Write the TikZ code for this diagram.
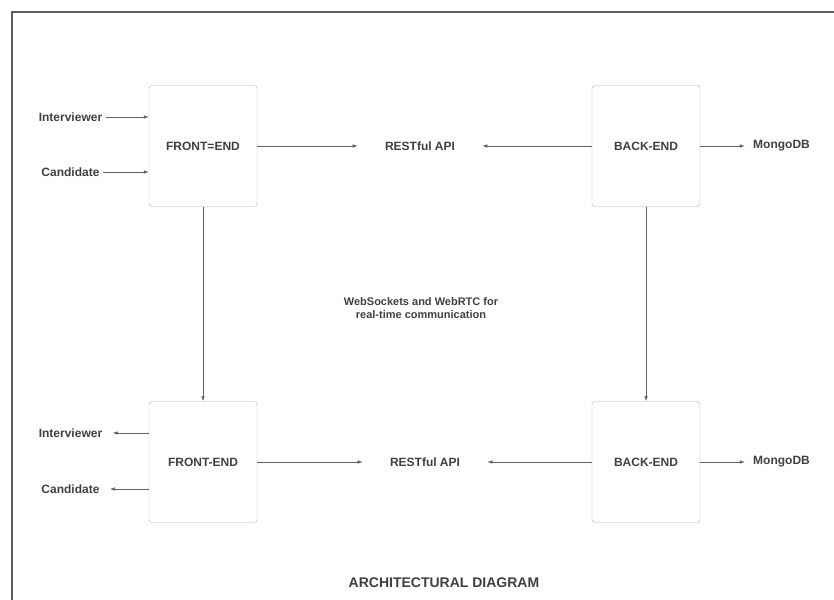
\documentclass[tikz,border=0pt]{standalone}
\usepackage{fontspec}
\setmainfont{Liberation Sans}
\usetikzlibrary{arrows.meta}

\definecolor{textgray}{HTML}{404040}
\definecolor{linegray}{HTML}{606060}
\definecolor{boxgray}{HTML}{B0B0B0}

\tikzset{
    >={Latex[length=5pt,width=3.5pt]},
    block/.style={draw=boxgray, rounded corners=3pt, minimum width=108pt, minimum height=121pt, font=\fontsize{12}{14}\selectfont\bfseries, text=textgray},
    label/.style={font=\fontsize{12}{14}\selectfont\bfseries, text=textgray},
    api/.style={label, outer xsep=24pt},
    wire/.style={linegray, line width=0.6pt}
}

\begin{document}
\begin{tikzpicture}[x=1pt,y=-1pt]
    \useasboundingbox (0,0) rectangle (834,599);
    % outer frame
    \draw[linegray, line width=1.2pt] (12,600) -- (12,12) -- (834,12);
    % top row
    \node[block] (fe1) at (203,146) {FRONT=END};
    \node[block] (be1) at (646,146) {BACK-END};
    \node[api] (api1) at (420,146) {RESTful API};
    \node[label, outer xsep=5pt] (db1) at (781.5,146) {MongoDB};
    \node[label] (int1) at (70.5,117) {Interviewer};
    \node[label] (cand1) at (70.5,172) {Candidate};
    % bottom row
    \node[block] (fe2) at (203,462) {FRONT-END};
    \node[block] (be2) at (646,462) {BACK-END};
    \node[api] (api2) at (425,462) {RESTful API};
    \node[label, outer xsep=5pt] (db2) at (781.5,462) {MongoDB};
    \node[label] (int2) at (70.5,433) {Interviewer};
    \node[label] (cand2) at (70.5,489) {Candidate};
    % middle note and title
    \node[label, font=\fontsize{11}{13}\selectfont\bfseries, align=center] (note) at (421,308) {WebSockets and WebRTC for\\real-time communication};
    \node[label, font=\fontsize{14}{16}\selectfont\bfseries] (title) at (444,583) {ARCHITECTURAL DIAGRAM};
    % users into front-end
    \draw[wire,->] (int1) -- (int1 -| fe1.west);
    \draw[wire,->] (cand1) -- (cand1 -| fe1.west);
    % front-end back to users
    \draw[wire,->,shorten >=7pt] (int2 -| fe2.west) -- (int2);
    \draw[wire,->,shorten >=7pt] (cand2 -| fe2.west) -- (cand2);
    % api links
    \draw[wire,->] (fe1) -- (api1);
    \draw[wire,->] (be1) -- (api1);
    \draw[wire,->] (fe2) -- (api2);
    \draw[wire,->] (be2) -- (api2);
    % database links
    \draw[wire,->] (be1) -- (db1);
    \draw[wire,->] (be2) -- (db2);
    % real-time links
    \draw[wire,->] (fe1) -- (fe2);
    \draw[wire,->] (be1) -- (be2);
\end{tikzpicture}
\end{document}
